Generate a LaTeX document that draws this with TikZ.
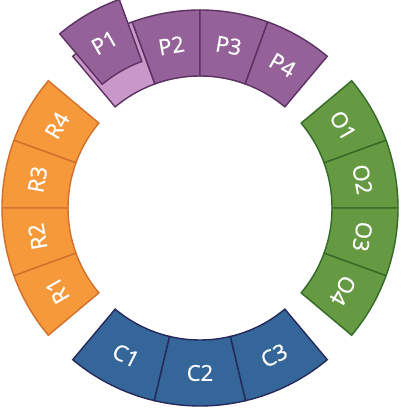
\documentclass[tikz,border=0pt]{standalone}
\usepackage{fontspec}
\setmainfont{Open Sans}[FakeBold=0.8]
\definecolor{pfill}{RGB}{148,98,152}
\definecolor{pdraw}{RGB}{92,48,98}
\definecolor{plight}{RGB}{201,152,201}
\definecolor{ofill}{RGB}{246,153,58}
\definecolor{odraw}{RGB}{212,110,44}
\definecolor{gfill}{RGB}{101,153,66}
\definecolor{gdraw}{RGB}{52,106,40}
\definecolor{bfill}{RGB}{52,102,153}
\definecolor{bdraw}{RGB}{38,40,90}
\newcommand\ringseg[3]{%
  \path[#3] (#1:132pt) -- (#1:198pt) arc[start angle=#1, end angle=#2, radius=198pt]
    -- (#2:132pt) arc[start angle=#2, end angle=#1, radius=132pt] -- cycle;}
\tikzset{
  segP/.style={fill=pfill, draw=pdraw, line width=1.4pt},
  segPL/.style={fill=plight, draw=pdraw, line width=1.4pt},
  segR/.style={fill=ofill, draw=odraw, line width=1.4pt},
  segO/.style={fill=gfill, draw=gdraw, line width=1.4pt},
  segC/.style={fill=bfill, draw=bdraw, line width=1.4pt},
  lbl/.style={text=white, font=\fontsize{22}{24}\selectfont, inner sep=0pt},
}
\begin{document}
\begin{tikzpicture}
\fill[white] (0,0) rectangle (400pt,409pt);
\useasboundingbox (0,0) rectangle (400pt,409pt);
\begin{scope}[shift={(200pt,201pt)}]
% R ring
\ringseg{140}{160}{segR}
\ringseg{160}{180}{segR}
\ringseg{180}{200}{segR}
\ringseg{200}{220}{segR}
\node[lbl, rotate=60] (r4) at (150:165pt) {R4};
\node[lbl, rotate=80] (r3) at (170:165pt) {R3};
\node[lbl, rotate=100] (r2) at (190:165pt) {R2};
\node[lbl, rotate=120] (r1) at (210:165pt) {R1};
% O ring
\ringseg{20}{40}{segO}
\ringseg{0}{20}{segO}
\ringseg{-20}{0}{segO}
\ringseg{-40}{-20}{segO}
\node[lbl, rotate=-60] (o1) at (30:165pt) {O1};
\node[lbl, rotate=-80] (o2) at (10:165pt) {O2};
\node[lbl, rotate=-100] (o3) at (-10:165pt) {O3};
\node[lbl, rotate=-120] (o4) at (-30:165pt) {O4};
% C ring
\ringseg{230}{256.667}{segC}
\ringseg{256.667}{283.333}{segC}
\ringseg{283.333}{310}{segC}
\node[lbl, rotate=-26.667] (c1) at (243.333:165pt) {C1};
\node[lbl] (c2) at (270:165pt) {C2};
\node[lbl, rotate=26.667] (c3) at (296.667:165pt) {C3};
% P ring
\ringseg{110}{130}{segPL}
\ringseg{90}{110}{segP}
\ringseg{70}{90}{segP}
\ringseg{50}{70}{segP}
\node[lbl, rotate=10] (p2) at (100:165pt) {P2};
\node[lbl, rotate=-10] (p3) at (80:165pt) {P3};
\node[lbl, rotate=-30] (p4) at (60:165pt) {P4};
\begin{scope}[shift={(120:26pt)}]
\ringseg{110}{130}{segP}
\node[lbl, rotate=30] (p1) at (120:165pt) {P1};
\end{scope}
\end{scope}
\end{tikzpicture}
\end{document}
